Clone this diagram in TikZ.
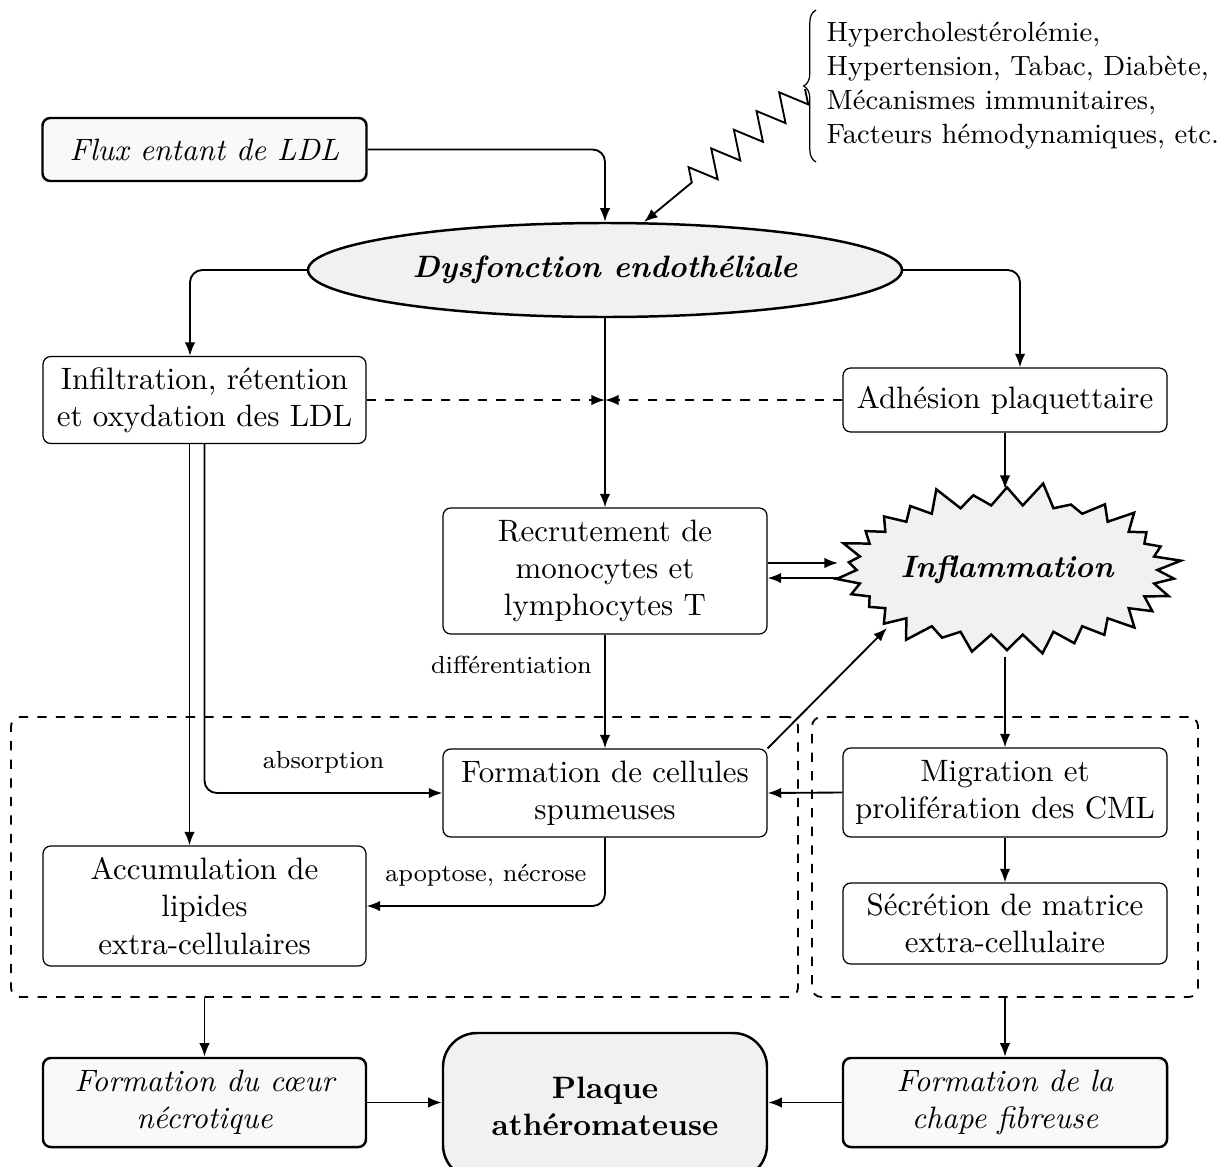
\documentclass[tikz,border=0pt]{standalone}
\usetikzlibrary{arrows.meta,shapes.geometric,shapes.symbols,decorations.pathmorphing,decorations.pathreplacing}
\def\pxu{0.3234pt}
\tikzset{
  sz/.style 2 args={minimum width=#1*\pxu, minimum height=#2*\pxu},
  box/.style={draw, thin, rounded corners=2.5pt, fill=white, align=center, inner sep=0pt},
  graybox/.style={draw, thick, rounded corners=2.5pt, fill=gray!5, align=center, inner sep=0pt, font=\itshape},
  dashbox/.style={draw, semithick, dashed, rounded corners=3pt, inner sep=0pt},
  conn/.style={semithick, -{Latex[length=4.4pt,width=3.4pt]}},
  lbl/.style={font=\footnotesize, inner sep=1pt},
}
\begin{document}
\begin{tikzpicture}[x=\pxu, y=-\pxu]
\useasboundingbox (0,0) rectangle (1221,1166);

% dashed groups
\node[dashbox, sz={787}{280}] (ldash) at (404.5,857) {};
\node[dashbox, sz={386}{280}] (rdash) at (1005,857) {};

% nodes
\node[graybox, sz={324}{63}] (flux) at (204.5,149.5) {Flux entant de LDL};
\node[ellipse, draw, thick, fill=gray!11, inner sep=0pt, sz={594}{94}, font=\bfseries\itshape] (ell) at (605,270) {Dysfonction endothéliale};
\node[box, sz={323}{87}] (infil) at (204.5,400) {Infiltration, rétention\\et oxydation des LDL};
\node[box, sz={324}{64}] (adh) at (1005,400) {Adhésion plaquettaire};
\node[box, sz={324}{126}] (recr) at (605,571) {Recrutement de\\monocytes et\\lymphocytes T};
\node[starburst, draw, thick, fill=gray!11, starburst points=30, starburst point height=8pt, inner sep=0pt, minimum width=106pt, minimum height=58pt, font=\bfseries\itshape] (infl) at (1007,570) {Inflammation};
\node[box, sz={324}{88}] (form) at (605,793) {Formation de cellules\\spumeuses};
\node[box, sz={323}{120}] (accu) at (204.5,906) {Accumulation de\\lipides\\extra-cellulaires};
\node[box, sz={324}{89}] (migr) at (1005,792.5) {Migration et\\prolifération des CML};
\node[box, sz={324}{81}] (secr) at (1005,923.5) {Sécrétion de matrice\\extra-cellulaire};
\node[graybox, sz={323}{89}] (coeur) at (204.5,1102.5) {Formation du c\oe ur\\nécrotique};
\node[draw, thick, rounded corners=11pt, fill=gray!11, align=center, inner sep=0pt, sz={324}{146}, font=\bfseries] (plaque) at (605,1106) {Plaque\\athéromateuse};
\node[graybox, sz={324}{89}] (chape) at (1005,1102.5) {Formation de la\\chape fibreuse};

% risk factors
\coordinate (bb) at (816,162);
\coordinate (bt) at (816,10);
\draw[thin, decorate, decoration={brace, amplitude=4pt}] (bb) -- (bt);
\node[anchor=west, align=left, font=\small, inner sep=0pt] (risk) at (826,86) {Hypercholestérolémie,\\Hypertension, Tabac, Diabète,\\Mécanismes immunitaires,\\Facteurs hémodynamiques, etc.};
\coordinate (zzs) at (805,89);
\coordinate (zze) at (644,222);
\draw[conn, decorate, decoration={zigzag, amplitude=4.5pt, segment length=9.5pt, post length=19pt}] (zzs) -- (zze);

% connectors
\draw[conn, rounded corners=4pt] (flux.east) -| (ell.north);
\draw[conn, rounded corners=4pt] (ell.west) -| ([xshift=-14.5*\pxu]infil.north);
\draw[conn, rounded corners=4pt] (ell.east) -| ([xshift=15*\pxu]adh.north);
\draw[conn] (ell.south) -- (recr.north);
\coordinate (jn) at (605,400);
\draw[conn, dashed] (infil.east) -- (jn);
\draw[conn, dashed] (adh.west) -- (jn);

\draw[conn] ([xshift=-15*\pxu]infil.south) -- ([xshift=-15*\pxu]accu.north);
\draw[conn, rounded corners=4pt] (infil.south) |- node[lbl, above=5pt, pos=0.75] {absorption} (form.west);
\draw[conn, rounded corners=4pt] (form.south) |- node[lbl, above=5pt, pos=0.75] {apoptose, nécrose} (accu.east);
\draw[conn] (recr.south) -- node[lbl, left=3pt, pos=0.27] {différentiation} (form.north);

\coordinate (infltop) at (1005,489);
\coordinate (inflbot) at (1005,657);
\coordinate (inflw1) at (838,563);
\coordinate (inflw2) at (840,578);
\coordinate (inflsw) at (887,628);
\draw[conn] (adh.south) -- (infltop);
\draw[conn] (inflbot) -- (migr.north);
\draw[conn] (recr.east |- inflw1) -- (inflw1);
\draw[conn] (inflw2) -- (recr.east |- inflw2);
\draw[conn] (form.north east) -- (inflsw);
\draw[conn] (migr.west) -- (form.east);
\draw[conn] (migr.south) -- (secr.north);

\draw[conn] (ldash.south -| coeur.north) -- (coeur.north);
\draw[conn] (rdash.south -| chape.north) -- (chape.north);
\draw[conn] (coeur.east) -- (coeur.east -| plaque.west);
\draw[conn] (chape.west) -- (chape.west -| plaque.east);
\end{tikzpicture}
\end{document}
